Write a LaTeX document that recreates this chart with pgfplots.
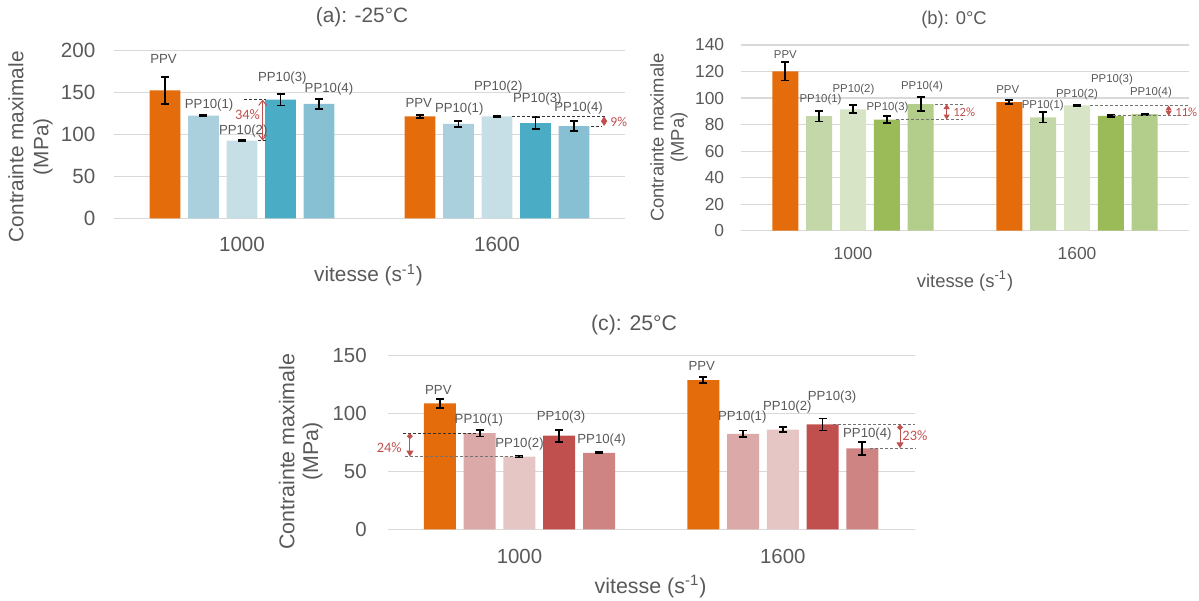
\documentclass[border=0pt]{standalone}
\usepackage{fontspec}
\setmainfont{Liberation Sans}
\newfontfamily\carlito{Carlito}
\usepackage{pgfplots}
\pgfplotsset{compat=1.18}
\usetikzlibrary{arrows.meta}

\definecolor{ppv}{HTML}{E46C0A}
\definecolor{textgray}{HTML}{595959}
\definecolor{gridgray}{HTML}{D9D9D9}
\definecolor{anno}{HTML}{C0504D}
% (a) blues
\definecolor{bA}{HTML}{AACFDD}
\definecolor{bB}{HTML}{C6DEE6}
\definecolor{bC}{HTML}{4BACC6}
\definecolor{bD}{HTML}{87C0D2}
% (b) greens
\definecolor{gA}{HTML}{C4D7A9}
\definecolor{gB}{HTML}{D8E4C6}
\definecolor{gC}{HTML}{9BBB59}
\definecolor{gD}{HTML}{B3CD8B}
% (c) reds
\definecolor{rA}{HTML}{DAA9A8}
\definecolor{rB}{HTML}{E6C5C5}
\definecolor{rC}{HTML}{C0504D}
\definecolor{rD}{HTML}{CE8483}

\pgfplotsset{
  panel/.style={
    scale only axis, anchor=south west, clip=false,
    xmin=-0.5, xmax=1.5, ymin=0,
    axis line style={draw=none},
    major tick length=0pt,
    xtick={0,1}, xticklabels={1000,1600},
    ymajorgrids, grid style={gridgray, line width=0.6pt},
    tick label style={textgray},
    /pgf/number format/assume math mode=true,
  },
  sbar/.style 2 args={ybar, bar width=#1, bar shift=0pt, draw=none, fill=#2,
    error bars/y dir=both, error bars/y explicit,
    error bars/error mark=|,
    error bars/error bar style={black, line width=0.9pt},
    error bars/error mark options={black, line width=0.9pt, mark size=2pt}},
}
\tikzset{
  lbl/.style={font=\fontsize{#1}{#1}\selectfont, textgray, inner sep=0pt},
  dashln/.style={#1, line width=0.5pt, dash pattern=on 1.5pt off 1pt},
}

\begin{document}
\begin{tikzpicture}
\useasboundingbox (0,0) rectangle (599.5pt,-300pt);

% ---------------- (a) -25 C ----------------
\begin{axis}[panel, at={(57.25pt,-109.15pt)}, width=255pt, height=83.9pt,
  ymax=200, ytick={0,50,...,200},
  tick label style={font=\fontsize{10.3}{12}\selectfont},
  yticklabel style={anchor=east, inner sep=0pt, xshift=-9.4pt},
  xticklabel style={anchor=center, inner sep=0pt, yshift=-13pt}]
\addplot[sbar={0.12}{ppv}] coordinates {(-0.302,152.4) +- (0,16.4) (0.698,121.6) +- (0,2)};
\addplot[sbar={0.12}{bA}] coordinates {(-0.151,122.4) +- (0,1) (0.849,112.6) +- (0,3.5)};
\addplot[sbar={0.12}{bB}] coordinates {(0,92.7) +- (0,1) (1,121.6) +- (0,1)};
\addplot[sbar={0.12}{bC}] coordinates {(0.151,141.4) +- (0,7) (1.151,113.5) +- (0,7.5)};
\addplot[sbar={0.12}{bD}] coordinates {(0.302,136.3) +- (0,6) (1.302,110) +- (0,5.8)};
\node[lbl=6.6] at (axis cs:-0.308,189.5) {PPV};
\node[lbl=6.6] at (axis cs:-0.129,135.4) {PP10(1)};
\node[lbl=6.6] at (axis cs:0.005,103.7) {PP10(2)};
\node[lbl=6.6] at (axis cs:0.158,167.6) {PP10(3)};
\node[lbl=6.6] at (axis cs:0.341,154.5) {PP10(4)};
\node[lbl=6.6] at (axis cs:0.693,137.4) {PPV};
\node[lbl=6.6] at (axis cs:0.852,129.9) {PP10(1)};
\node[lbl=6.6] at (axis cs:1.005,156.5) {PP10(2)};
\node[lbl=6.6] at (axis cs:1.158,142.6) {PP10(3)};
\node[lbl=6.6] at (axis cs:1.320,131.8) {PP10(4)};
% 34 %
\draw[dashln=black!80] (axis cs:0.008,141.4) -- (axis cs:0.094,141.4);
\draw[dashln=black!80] (axis cs:0.062,92.7) -- (axis cs:0.094,92.7);
\draw[anno, line width=0.5pt, {Straight Barb[length=2.5pt,width=4pt]}-{Straight Barb[length=2.5pt,width=4pt]}]
  (axis cs:0.081,141.4) -- (axis cs:0.081,92.7);
\node[anchor=east, inner sep=0pt, anno, font=\carlito\fontsize{7.2}{8}\selectfont] at (axis cs:0.072,124) {34\%};
% 9 %
\draw[dashln=black!80] (axis cs:1.06,121.6) -- (axis cs:1.431,121.6);
\draw[dashln=black!80] (axis cs:1.369,110) -- (axis cs:1.412,110);
\draw[anno, line width=0.5pt, {Triangle[length=2.5pt,width=3pt]}-{Triangle[length=2.5pt,width=3pt]}]
  (axis cs:1.42,121.6) -- (axis cs:1.42,110);
\node[anchor=west, inner sep=0pt, anno, font=\carlito\fontsize{6.8}{8}\selectfont] at (axis cs:1.443,114.6) {9\%};
\end{axis}

% ---------------- (b) 0 C ----------------
\begin{axis}[panel, at={(370.5pt,-115.35pt)}, width=224pt, height=92.85pt,
  ymax=140, ytick={0,20,...,140},
  tick label style={font=\fontsize{8.7}{10}\selectfont},
  yticklabel style={anchor=east, inner sep=0pt, xshift=-8.25pt},
  xticklabel style={anchor=center, inner sep=0pt, yshift=-11.65pt}]
\addplot[sbar={0.116}{ppv}] coordinates {(-0.302,120.2) +- (0,7) (0.698,97) +- (0,1.5)};
\addplot[sbar={0.116}{gA}] coordinates {(-0.151,86.3) +- (0,4) (0.849,85.4) +- (0,3.8)};
\addplot[sbar={0.116}{gB}] coordinates {(0,91.5) +- (0,3) (1,94.5) +- (0,0.5)};
\addplot[sbar={0.116}{gC}] coordinates {(0.151,83.8) +- (0,2.6) (1.151,86.6) +- (0,0.8)};
\addplot[sbar={0.116}{gD}] coordinates {(0.302,95.5) +- (0,5.4) (1.302,87.9) +- (0,0.5)};
\node[lbl=5.7] at (axis cs:-0.302,132.7) {PPV};
\node[lbl=5.7] at (axis cs:-0.145,98.7) {PP10(1)};
\node[lbl=5.7] at (axis cs:0.002,106.3) {PP10(2)};
\node[lbl=5.7] at (axis cs:0.154,92.9) {PP10(3)};
\node[lbl=5.7] at (axis cs:0.308,108.5) {PP10(4)};
\node[lbl=5.7] at (axis cs:0.691,106.3) {PPV};
\node[lbl=5.7] at (axis cs:0.847,94.7) {PP10(1)};
\node[lbl=5.7] at (axis cs:1.000,103) {PP10(2)};
\node[lbl=5.7] at (axis cs:1.156,114.3) {PP10(3)};
\node[lbl=5.7] at (axis cs:1.330,104.5) {PP10(4)};
% 12 %
\draw[dashln=black!55] (axis cs:0.366,95.5) -- (axis cs:0.492,95.5);
\draw[dashln=black!55] (axis cs:0.19,83.8) -- (axis cs:0.492,83.8);
\draw[anno, line width=0.5pt, {Triangle[length=2.5pt,width=3pt]}-{Triangle[length=2.5pt,width=3pt]}]
  (axis cs:0.418,95.5) -- (axis cs:0.418,83.8);
\node[anchor=west, inner sep=0pt, anno, font=\carlito\fontsize{6.3}{7}\selectfont] at (axis cs:0.446,89.4) {12\%};
% 11 %
\draw[dashln=black!55] (axis cs:1.058,94.5) -- (axis cs:1.504,94.5);
\draw[dashln=black!55] (axis cs:1.162,86.6) -- (axis cs:1.504,86.6);
\draw[anno, line width=0.5pt, {Triangle[length=2.5pt,width=3pt]}-{Triangle[length=2.5pt,width=3pt]}]
  (axis cs:1.409,94.5) -- (axis cs:1.409,86.6);
\node[anchor=west, inner sep=0pt, anno, font=\carlito\fontsize{6.3}{7}\selectfont] at (axis cs:1.4375,89.6) {11\%};
\end{axis}

% ---------------- (c) 25 C ----------------
\begin{axis}[panel, at={(193.9pt,-264.65pt)}, width=263.35pt, height=86.8pt,
  ymax=150, ytick={0,50,...,150},
  tick label style={font=\fontsize{10.2}{12}\selectfont},
  yticklabel style={anchor=east, inner sep=0pt, xshift=-10.4pt},
  xticklabel style={anchor=center, inner sep=0pt, yshift=-13.35pt}]
\addplot[sbar={0.1215}{ppv}] coordinates {(-0.302,108.9) +- (0,4) (0.698,129) +- (0,2.5)};
\addplot[sbar={0.1215}{rA}] coordinates {(-0.151,83) +- (0,2.8) (0.849,82.5) +- (0,2.8)};
\addplot[sbar={0.1215}{rB}] coordinates {(0,62.8) +- (0,0.5) (1,86.1) +- (0,2.2)};
\addplot[sbar={0.1215}{rC}] coordinates {(0.151,80.9) +- (0,5.2) (1.151,90.6) +- (0,5.2)};
\addplot[sbar={0.1215}{rD}] coordinates {(0.302,66) +- (0,0.5) (1.302,70) +- (0,5.7)};
\node[lbl=6.6] at (axis cs:-0.308,120.4) {PPV};
\node[lbl=6.6] at (axis cs:-0.154,94.5) {PP10(1)};
\node[lbl=6.6] at (axis cs:0,73.7) {PP10(2)};
\node[lbl=6.6] at (axis cs:0.158,96.8) {PP10(3)};
\node[lbl=6.6] at (axis cs:0.312,77.2) {PP10(4)};
\node[lbl=6.6] at (axis cs:0.692,141.4) {PPV};
\node[lbl=6.6] at (axis cs:0.846,96.8) {PP10(1)};
\node[lbl=6.6] at (axis cs:1.017,106) {PP10(2)};
\node[lbl=6.6] at (axis cs:1.187,114) {PP10(3)};
\node[lbl=6.6] at (axis cs:1.321,82.4) {PP10(4)};
% 24 %
\draw[dashln=black!80] (axis cs:-0.444,83) -- (axis cs:-0.163,83);
\draw[dashln=black!55] (axis cs:-0.435,62.8) -- (axis cs:0.008,62.8);
\draw[anno, line width=0.5pt, {Diamond[length=3pt,width=3pt]}-{Triangle[length=3pt,width=3.5pt]}]
  (axis cs:-0.416,83) -- (axis cs:-0.416,62.8);
\node[inner sep=0pt, anno, font=\carlito\fontsize{7.2}{8}\selectfont] at (axis cs:-0.4945,70.6) {24\%};
% 23 %
\draw[dashln=black!55] (axis cs:1.192,90.6) -- (axis cs:1.502,90.6);
\draw[dashln=black!55] (axis cs:1.331,70) -- (axis cs:1.502,70);
\draw[anno, line width=0.5pt, {Diamond[length=3pt,width=3pt]}-{Triangle[length=3pt,width=3.5pt]}]
  (axis cs:1.445,90.6) -- (axis cs:1.445,70);
\node[anchor=west, inner sep=0.5pt, anno, font=\carlito\fontsize{7.2}{8}\selectfont] at (axis cs:1.449,80.6) {23\%};
\end{axis}

% ---------------- titles and axis names ----------------
\node[textgray, font=\fontsize{10.4}{12}\selectfont] at (181pt,-8.65pt) {(a): -25°C};
\node[textgray, font=\fontsize{9.2}{11}\selectfont] at (477pt,-9.65pt) {(b): 0°C};
\node[textgray, font=\fontsize{10.6}{12}\selectfont] at (317pt,-162.5pt) {(c): 25°C};

\node[textgray, font=\fontsize{10.4}{12}\selectfont] at (184.25pt,-137.5pt) {vitesse (s\textsuperscript{-1})};
\node[textgray, font=\fontsize{9.2}{11}\selectfont] at (482.5pt,-140.5pt) {vitesse (s\textsuperscript{-1})};
\node[textgray, font=\fontsize{10.7}{12}\selectfont] at (325.3pt,-293.35pt) {vitesse (s\textsuperscript{-1})};

\node[rotate=90, align=center, textgray, font=\fontsize{10.4}{12.5}\selectfont] at (15.25pt,-73.35pt) {Contrainte maximale\\(MPa)};
\node[rotate=90, align=center, textgray, font=\fontsize{9.2}{10.1}\selectfont] at (334.5pt,-68.75pt) {Contrainte maximale\\(MPa)};
\node[rotate=90, align=center, textgray, font=\fontsize{10.7}{11.85}\selectfont] at (150.4pt,-225.85pt) {Contrainte maximale\\(MPa)};
\end{tikzpicture}
\end{document}
